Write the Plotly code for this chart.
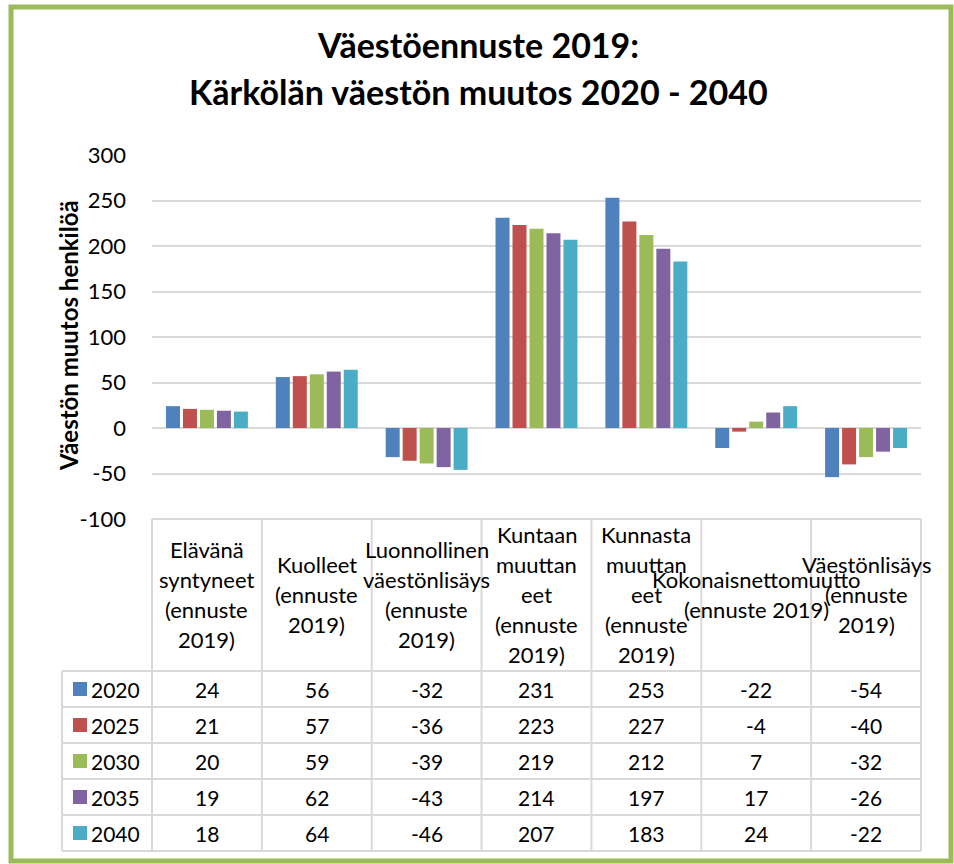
import plotly.graph_objects as go

# ---------------- data ----------------
categories = [
    "Elävänä\nsyntyneet\n(ennuste\n2019)",
    "Kuolleet\n(ennuste\n2019)",
    "Luonnollinen\nväestönlisäys\n(ennuste\n2019)",
    "Kuntaan\nmuuttan\neet\n(ennuste\n2019)",
    "Kunnasta\nmuuttan\neet\n(ennuste\n2019)",
    "Kokonaisnettomuutto\n(ennuste 2019)",
    "Väestönlisäys\n(ennuste\n2019)",
]
years = ["2020", "2025", "2030", "2035", "2040"]
v2020 = [24, 56, -32, 231, 253, -22, -54]
v2025 = [21, 57, -36, 223, 227, -4, -40]
v2030 = [20, 59, -39, 219, 212, 7, -32]
v2035 = [19, 62, -43, 214, 197, 17, -26]
v2040 = [18, 64, -46, 207, 183, 24, -22]
series = [v2020, v2025, v2030, v2035, v2040]
colors = ["#4F81BD", "#C0504D", "#9BBB59", "#8064A2", "#4BACC6"]

title_lines = ["Väestöennuste 2019:", "Kärkölän väestön muutos 2020 - 2040"]
y_title = "Väestön muutos henkilöä"
y_ticks = [-100, -50, 0, 50, 100, 150, 200, 250, 300]
y_ticklabels = ["-100", "-50", "0", "50", "100", "150", "200", "250", "300"]

FONT = "Lato, Carlito, Calibri, sans-serif"
W, H = 954, 864
L, R, T, B = 152, 921, 155, 519  # plot area in pixels
GRID = "#d9d9d9"
TXT = 21

def px(xp):
    return (xp - L) / (R - L)

def py(yp):
    return (B - yp) / (B - T)

keys = [c.split("\n")[0] + str(i) for i, c in enumerate(categories)]
catw = (R - L) / len(categories)

fig = go.Figure()
for yr, vals, col in zip(years, series, colors):
    fig.add_trace(go.Bar(x=keys, y=vals, name=yr, marker=dict(color=col, line=dict(width=0))))

shapes = []
annotations = []

# outer green frame
shapes.append(dict(type="rect", xref="paper", yref="paper",
                   x0=px(11), x1=px(951), y0=py(7), y1=py(861),
                   line=dict(color="#9BBB59", width=5), layer="below"))

# table geometry
row_top = 671
row_h = 36
n_rows = len(years)
tab_bottom = row_top + row_h * n_rows
leg_left = 62

def hline(x0, x1, y):
    shapes.append(dict(type="line", xref="paper", yref="paper",
                       x0=px(x0), x1=px(x1), y0=py(y), y1=py(y),
                       line=dict(color=GRID, width=2)))

def vline(x, y0, y1):
    shapes.append(dict(type="line", xref="paper", yref="paper",
                       x0=px(x), x1=px(x), y0=py(y0), y1=py(y1),
                       line=dict(color=GRID, width=2)))

hline(L, R, B)
for j in range(n_rows + 1):
    hline(leg_left, R, row_top + j * row_h)
vline(leg_left, row_top, tab_bottom)
for i in range(len(categories) + 1):
    vline(L + i * catw, B, tab_bottom)

# category labels (header row)
lab_center = 594
lab_sp = 30
for i, c in enumerate(categories):
    lines = c.split("\n")
    n = len(lines)
    for k, ln in enumerate(lines):
        yy = lab_center + (k - (n - 1) / 2) * lab_sp
        annotations.append(dict(xref="paper", yref="paper", x=px(L + (i + 0.5) * catw), y=py(yy),
                                text=ln, showarrow=False, xanchor="center", yanchor="middle",
                                font=dict(family=FONT, size=22, color="#000000")))

# data rows
for j, (yr, vals, col) in enumerate(zip(years, series, colors)):
    yc = row_top + j * row_h + row_h / 2
    shapes.append(dict(type="rect", xref="paper", yref="paper",
                       x0=px(73), x1=px(87), y0=py(yc - 7), y1=py(yc + 7),
                       fillcolor=col, line=dict(width=0)))
    annotations.append(dict(xref="paper", yref="paper", x=px(89), y=py(yc), text=yr,
                            showarrow=False, xanchor="left", yanchor="middle",
                            font=dict(family=FONT, size=TXT, color="#000000")))
    for i, v in enumerate(vals):
        annotations.append(dict(xref="paper", yref="paper", x=px(L + (i + 0.5) * catw), y=py(yc),
                                text=str(v), showarrow=False, xanchor="center", yanchor="middle",
                                font=dict(family=FONT, size=TXT, color="#000000")))

# titles
for ln, yy in zip(title_lines, [45, 92]):
    annotations.append(dict(xref="paper", yref="paper", x=px(478), y=py(yy), text="<b>%s</b>" % ln,
                            showarrow=False, xanchor="center", yanchor="middle",
                            font=dict(family=FONT, size=34, color="#000000")))

annotations.append(dict(xref="paper", yref="paper", x=px(68), y=py(336), text="<b>%s</b>" % y_title,
                        showarrow=False, textangle=-90, xanchor="center", yanchor="middle",
                        font=dict(family=FONT, size=24, color="#000000")))

fig.update_layout(
    width=W, height=H,
    margin=dict(l=L, r=W - R, t=T, b=H - B, pad=0),
    paper_bgcolor="white", plot_bgcolor="white",
    barmode="group", bargap=0.227, bargroupgap=0.176,
    showlegend=False,
    font=dict(family=FONT, size=TXT, color="#000000"),
    xaxis=dict(showticklabels=False, showgrid=False, zeroline=False, showline=False,
               ticks="", range=[-0.5, len(categories) - 0.5]),
    yaxis=dict(range=[-100, 300], tickvals=y_ticks, ticktext=y_ticklabels,
               showgrid=True, gridcolor=GRID, gridwidth=2,
               zeroline=True, zerolinecolor=GRID, zerolinewidth=2, showline=False, ticks="",
               ticklabelstandoff=25, tickfont=dict(family=FONT, size=22, color="#000000")),
    shapes=shapes, annotations=annotations,
)

fig.write_html("out.html", config={"displayModeBar": False},
               post_script="document.body.style.margin='0px';")
